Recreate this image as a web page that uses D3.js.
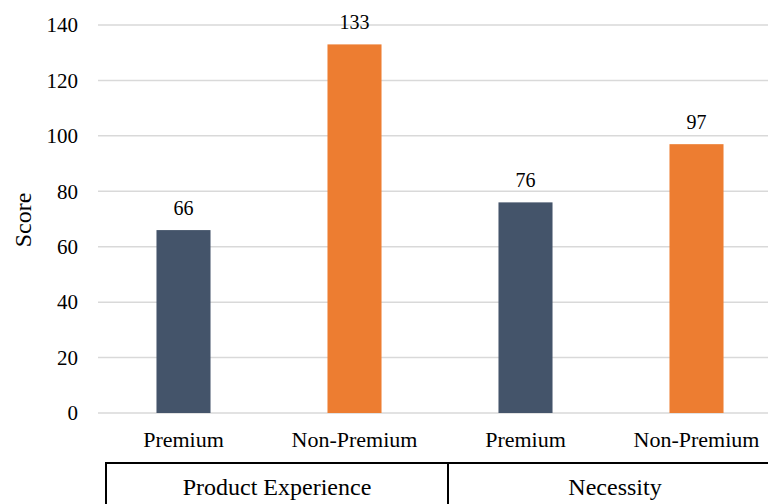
<!DOCTYPE html>
<html>
<head>
<meta charset="utf-8">
<script src="https://cdn.jsdelivr.net/npm/d3@7"></script>
<style>
  body { margin: 0; background: #fff; }
  svg text { font-family: "Liberation Serif", "Times New Roman", Tinos, "DejaVu Serif", serif !important; fill: #000; }
</style>
</head>
<body>
<svg id="chart"></svg>
<script>
// data
var categories = ["Premium", "Non-Premium", "Premium", "Non-Premium"];
var groups = ["Product Experience", "Necessity"];
var scores = [66, 133, 76, 97];
var yTicks = [0, 20, 40, 60, 80, 100, 120, 140];

var W = 768, H = 504;
var margin = { top: 25, left: 98, bottom: 91 };
var plotW = 684, plotH = H - margin.top - margin.bottom;

var colors = ["#44546A", "#ED7D31", "#44546A", "#ED7D31"];

var svg = d3.select("#chart")
  .attr("width", W)
  .attr("height", H);

var g = svg.append("g")
  .attr("transform", "translate(" + margin.left + "," + margin.top + ")");

var x = d3.scaleBand()
  .domain(d3.range(categories.length))
  .range([0, plotW])
  .padding(0);

var y = d3.scaleLinear()
  .domain([0, 140])
  .range([plotH, 0]);

var barW = x.bandwidth() * 0.316;

// gridlines
g.selectAll(".grid")
  .data(yTicks)
  .enter()
  .append("line")
  .attr("x1", 0)
  .attr("x2", plotW)
  .attr("y1", d => y(d))
  .attr("y2", d => y(d))
  .attr("stroke", "#d9d9d9")
  .attr("stroke-width", 1.5);

// y axis labels
var yAxis = g.append("g")
  .call(d3.axisLeft(y).tickValues(yTicks).tickSize(0).tickPadding(20));
yAxis.select(".domain").remove();
yAxis.selectAll("text")
  .style("font-size", "21px")
  .attr("fill", "#000");

// bars
g.selectAll(".bar")
  .data(scores)
  .enter()
  .append("rect")
  .attr("class", "bar")
  .attr("x", (d, i) => x(i) + (x.bandwidth() - barW) / 2)
  .attr("width", barW)
  .attr("y", d => y(d))
  .attr("height", d => plotH - y(d))
  .attr("fill", (d, i) => colors[i]);

// value labels
g.selectAll(".val")
  .data(scores)
  .enter()
  .append("text")
  .attr("x", (d, i) => x(i) + x.bandwidth() / 2)
  .attr("y", d => y(d) - 15)
  .attr("text-anchor", "middle")
  .style("font-size", "20px")
  .text(d => d);

// category labels
g.selectAll(".cat")
  .data(categories)
  .enter()
  .append("text")
  .attr("x", (d, i) => x(i) + x.bandwidth() / 2)
  .attr("y", plotH + 34)
  .attr("text-anchor", "middle")
  .style("font-size", "22px")
  .text(d => d);

// group boxes
var shift = 8;
var boxTop = plotH + 50;
groups.forEach((grp, k) => {
  var x0 = x(k * 2) + shift;
  var x1 = x(k * 2 + 1) + x.bandwidth() + shift;
  g.append("path")
    .attr("d", "M" + x0 + "," + (H + 5 - margin.top) + "V" + boxTop + "H" + x1 + "V" + (H + 5 - margin.top))
    .attr("fill", "none")
    .attr("stroke", "#000")
    .attr("stroke-width", 2);
  g.append("text")
    .attr("x", (x0 + x1) / 2 - (k == 1 ? 4 : 0))
    .attr("y", boxTop + 32)
    .attr("text-anchor", "middle")
    .style("font-size", "24px")
    .text(grp);
});

// y title
svg.append("text")
  .attr("transform", "translate(31,220) rotate(-90)")
  .attr("text-anchor", "middle")
  .style("font-size", "24px")
  .text("Score");
</script>
</body>
</html>
